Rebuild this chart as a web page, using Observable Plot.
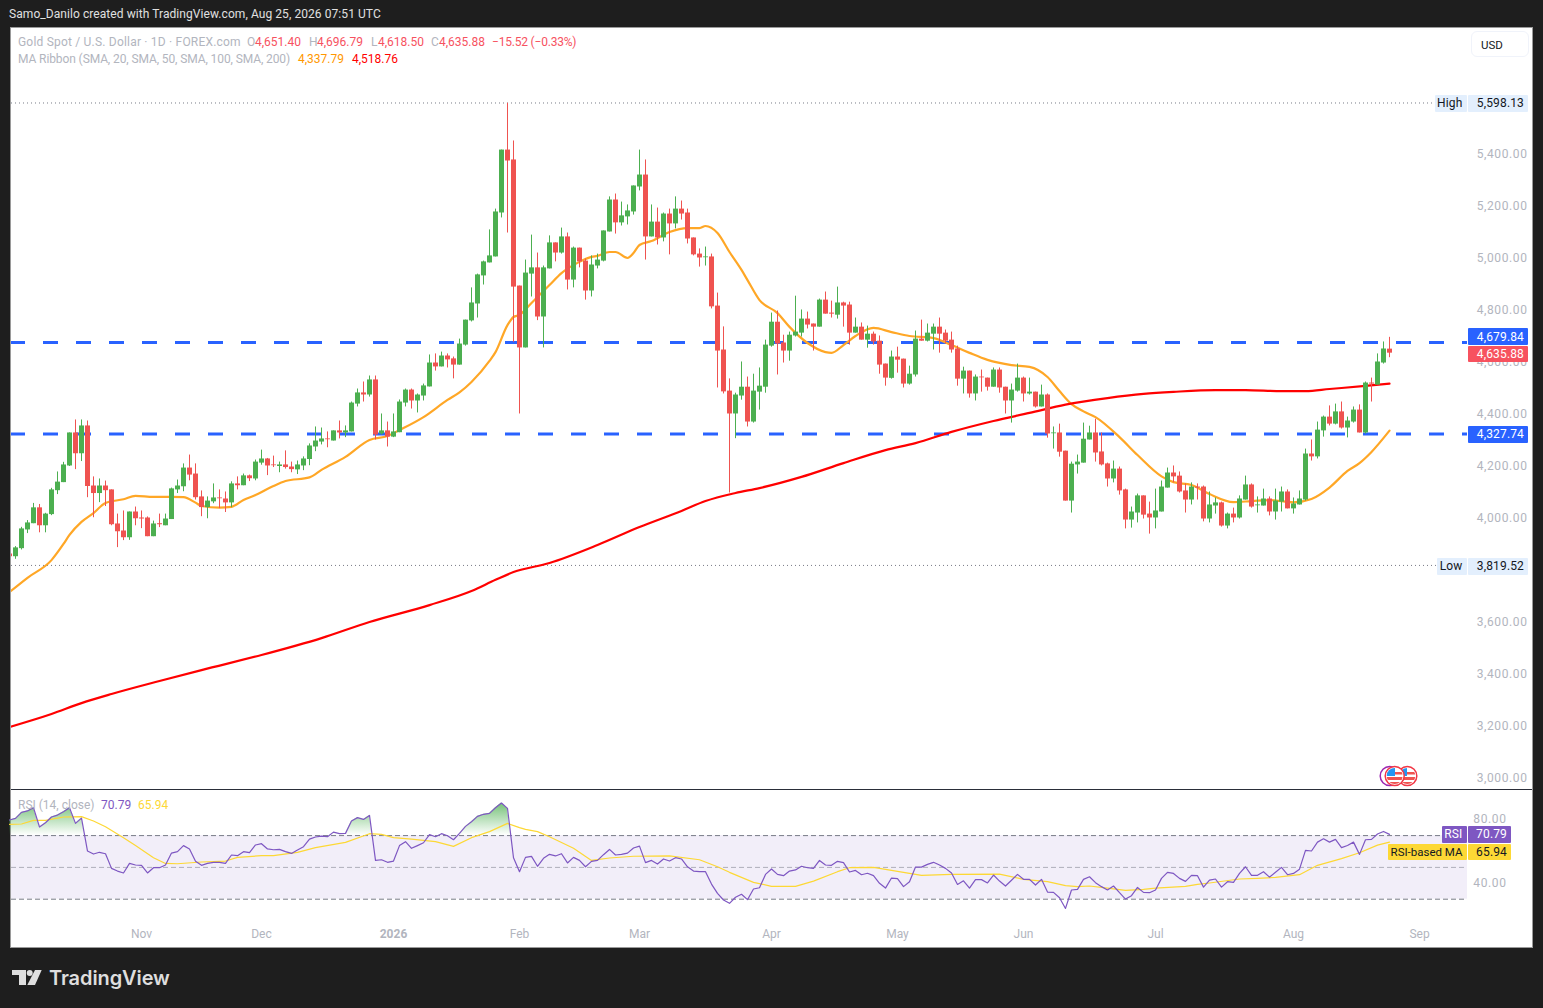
<!DOCTYPE html>
<html><head><meta charset="utf-8">
<script src="https://cdn.jsdelivr.net/npm/d3@7"></script>
<script src="https://cdn.jsdelivr.net/npm/@observablehq/plot@0.6"></script>
<style>
html,body{margin:0;padding:0;background:#1e1e1e;width:1543px;height:1008px;overflow:hidden;font-family:Roboto,sans-serif}
#wrap{position:relative;width:1543px;height:1008px}
.abs{position:absolute;white-space:nowrap;line-height:1}
.box{position:absolute;font-size:12px;display:flex;align-items:center;justify-content:flex-end;box-sizing:border-box;padding-right:4px;border-radius:1px;white-space:nowrap;letter-spacing:.15px}
svg.plot,#wrap>svg{position:absolute}
</style></head><body><div id="wrap"></div>
<script>
const opens=[3863,3853,3884,3956,3980,4041,3972,4015,4107,4138,
4202,4329,4249,4356,4125,4096,4125,4110,3979,3952,
3926,4025,4002,4002,3930,3980,3972,3996,4110,4122,
4194,4171,4083,4042,4064,4079,4075,4060,4133,4126,
4164,4152,4213,4229,4206,4200,4206,4198,4187,4202,
4227,4275,4294,4306,4298,4337,4329,4333,4440,4483,
4475,4533,4325,4337,4313,4330,4444,4494,4452,4471,
4506,4598,4583,4625,4614,4590,4667,4760,4825,4933,
4983,5006,5175,5417,5379,4894,4656,4940,4964,4775,
4960,5060,5021,5083,4917,5040,4990,4875,4971,4990,
5102,5225,5137,5160,5179,5275,5321,5083,5140,5079,
5171,5133,5190,5175,5079,5017,5003,5006,4817,4648,
4490,4402,4471,4505,4371,4486,4505,4663,4755,4675,
4644,4702,4713,4767,4748,4736,4840,4790,4782,4829,
4821,4713,4736,4686,4709,4682,4594,4539,4621,4613,
4517,4552,4690,4682,4709,4736,4713,4686,4652,4536,
4567,4479,4544,4540,4505,4571,4505,4452,4490,4540,
4479,4486,4429,4475,4326,4329,4259,4067,4206,4213,
4302,4329,4256,4210,4152,4190,4110,3994,4021,4087,
4017,4002,4025,4117,4175,4163,4106,4071,4121,4121,
3998,4048,4060,3971,4017,4002,4071,4129,4049,4048,
4075,4025,4063,4102,4037,4052,4071,4248,4237,4337,
4390,4363,4410,4348,4371,4417,4329,4521,4513,4598,
4651.4];
const closes=[3853,3887,3960,3983,4041,3972,4017,4110,4140,4206,
4329,4249,4356,4123,4096,4125,4107,3976,3949,3926,
4025,3999,3998,3930,3979,3976,3998,4114,4125,4194,
4167,4080,4042,4067,4079,4076,4060,4133,4126,4164,
4153,4217,4229,4202,4203,4206,4196,4188,4206,4229,
4279,4298,4306,4303,4337,4329,4337,4444,4483,4475,
4533,4321,4337,4313,4333,4448,4494,4452,4475,4510,
4598,4583,4625,4610,4590,4671,4763,4829,4937,4987,
5010,5179,5417,5375,4890,4656,4944,4964,4775,4964,
5060,5021,5083,4917,5040,4987,4875,4975,4994,5106,
5225,5137,5164,5183,5279,5321,5083,5140,5079,5171,
5133,5190,5171,5075,5014,5002,5006,4814,4644,4487,
4402,4475,4505,4371,4490,4509,4667,4755,4671,4644,
4705,4717,4767,4744,4736,4840,4786,4786,4829,4817,
4713,4736,4686,4709,4679,4590,4540,4621,4609,4517,
4555,4690,4682,4713,4736,4709,4682,4648,4536,4567,
4479,4544,4541,4505,4571,4502,4452,4494,4540,4479,
4486,4429,4475,4325,4329,4255,4067,4209,4217,4305,
4329,4252,4206,4152,4190,4106,3994,4025,4087,4013,
4002,4029,4121,4175,4160,4102,4071,4121,4117,3998,
4052,4060,3971,4017,4002,4075,4129,4044,4052,4075,
4025,4067,4102,4037,4056,4075,4248,4237,4340,4390,
4363,4410,4348,4375,4417,4329,4521,4517,4602,4652,
4635.88];
const highs=[3866,3892,3966,3992,4058,4054,4020,4116,4179,4216,
4329,4379,4379,4375,4160,4152,4144,4110,4017,4029,
4025,4044,4029,4006,3990,4017,4017,4117,4148,4210,
4244,4210,4106,4083,4133,4110,4102,4141,4160,4171,
4167,4225,4263,4231,4240,4217,4260,4217,4221,4237,
4287,4352,4348,4333,4337,4375,4356,4448,4498,4525,
4548,4548,4402,4371,4402,4456,4498,4498,4479,4517,
4629,4633,4640,4633,4621,4690,4763,4887,4940,4990,
5110,5190,5417,5597,5452,4894,4994,5090,5021,4971,
5087,5060,5117,5098,5044,5040,4998,5010,5017,5106,
5237,5248,5217,5206,5279,5417,5379,5206,5194,5175,
5190,5237,5221,5190,5079,5037,5044,5017,4867,4737,
4537,4482,4602,4544,4555,4579,4686,4790,4798,4705,
4717,4855,4802,4794,4748,4844,4871,4836,4890,4832,
4832,4771,4752,4740,4717,4702,4594,4644,4659,4613,
4586,4721,4763,4748,4748,4771,4725,4717,4663,4582,
4567,4552,4571,4540,4579,4579,4505,4517,4594,4544,
4540,4486,4513,4479,4352,4363,4259,4217,4244,4367,
4355,4382,4329,4213,4221,4198,4113,4044,4094,4087,
4063,4113,4144,4194,4202,4179,4133,4137,4133,4125,
4102,4079,4063,4021,4040,4087,4163,4133,4083,4113,
4083,4113,4121,4110,4079,4106,4267,4302,4371,4394,
4433,4440,4448,4390,4429,4437,4525,4540,4633,4679,
4696.79];
const lows=[3845,3843,3879,3942,3980,3945,3945,4011,4092,4138,
4200,4188,4219,4080,4003,4061,4046,3972,3888,3915,
3916,3972,3961,3930,3930,3965,3972,3996,4096,4103,
4145,4071,4007,3999,4057,4038,4023,4042,4110,4126,
4142,4145,4205,4165,4196,4176,4190,4176,4169,4184,
4203,4257,4283,4272,4298,4306,4311,4333,4429,4448,
4467,4302,4321,4275,4311,4330,4429,4421,4406,4452,
4506,4567,4583,4579,4537,4590,4663,4756,4771,4898,
4983,5006,5156,5098,4678,4402,4656,4852,4761,4656,
4960,4987,5017,4879,4887,4964,4840,4852,4960,4987,
5102,5094,5125,5129,5167,5260,4994,5083,5052,5064,
5014,5114,5148,5056,5010,4967,4971,4806,4502,4479,
4098,4307,4455,4352,4367,4417,4482,4659,4552,4598,
4605,4698,4698,4729,4644,4736,4786,4771,4767,4736,
4667,4713,4686,4655,4667,4555,4509,4536,4559,4502,
4513,4544,4682,4679,4648,4636,4671,4636,4509,4479,
4463,4452,4486,4490,4505,4482,4402,4367,4486,4448,
4475,4425,4429,4309,4267,4236,4067,4021,4171,4213,
4302,4217,4202,4121,4137,4090,3960,3963,3983,3998,
3940,3960,4025,4117,4137,4098,4021,4052,4071,3987,
3983,4017,3967,3960,3983,3998,4071,4040,4021,4048,
4010,3994,4025,4037,4017,4052,4067,4221,4229,4313,
4356,4360,4344,4310,4367,4329,4325,4448,4513,4594,
4618.5];

const ma50Days=[0,3,7,9,10,12,14,16,19,21,24,27,29,31,32,35,37,39,41,44,46,50,52,56,60,63,65,69,73,75,77,80,81,83,84,85,87,90,92,95,97,98,100,101,103,104,105,107,110,113,115,116,118,120,122,123,125,128,130,133,136,137,139,141,144,147,150,154,157,160,163,167,170,173,175,177,179,181,185,188,192,194,197,200,204,207,210,214,217,220,223,225,227,230];
const ma50Vals=[3717,3772,3840,3902,3937,3987,4021,4060,4074,4087,4083,4083,4082,4061,4048,4042,4045,4071,4090,4125,4144,4158,4187,4237,4302,4317,4340,4390,4456,4485,4525,4606,4640,4744,4775,4783,4829,4898,4944,4987,5006,5010,5025,5025,5002,5021,5052,5067,5102,5117,5117,5125,5098,5025,4956,4917,4840,4790,4737,4675,4640,4637,4667,4702,4733,4717,4702,4694,4667,4637,4610,4590,4583,4544,4490,4440,4412,4390,4313,4244,4162,4140,4129,4094,4063,4067,4071,4062,4075,4119,4183,4213,4256,4337.79];
const ma200Days=[0,7,12,17,25,32,42,52,60,70,77,81,84,90,98,105,112,116,121,125,132,139,146,151,157,164,170,176,183,189,194,201,206,212,216,220,226,230];
const ma200Vals=[3198,3248,3290,3325,3375,3417,3475,3540,3602,3667,3721,3764,3794,3829,3898,3967,4029,4067,4098,4117,4160,4213,4263,4290,4333,4375,4406,4438,4463,4479,4487,4494,4494,4490,4490,4498,4510,4518.76];

const rsi=[79.8,80.8,84.6,85.5,87.5,75.4,78.1,81.7,82.9,85.0,87.5,77.7,81.0,60.3,58.4,59.5,58.6,49.4,47.7,46.5,
52.5,51.5,51.3,46.5,49.8,49.8,51.5,59.0,59.9,63.7,61.6,53.8,51.3,52.5,53.2,53.2,52.5,57.8,57.4,59.9,
59.3,64.1,64.9,61.6,61.1,61.3,59.9,58.8,60.9,63.0,67.8,69.1,69.7,69.3,72.2,71.2,71.4,79.2,81.3,80.2,
82.7,54.4,54.8,53.2,54.0,63.7,66.2,62.0,63.7,65.5,70.6,69.3,71.2,69.9,67.4,71.4,75.8,78.7,82.1,83.4,
84.0,87.5,90.5,87.1,56.1,47.3,
56.3,56.9,50.7,55.7,58.2,57.2,58.6,52.8,56.3,54.4,50.4,53.8,54.4,58.0,61.3,57.8,58.2,59.0,62.2,63.4,
53.0,54.4,52.1,55.3,54.0,56.1,55.3,50.4,47.7,47.3,47.3,39.5,33.7,29.5,27.4,31.2,33.1,29.7,36.4,37.2,
45.6,49.0,45.6,44.8,47.7,48.4,50.7,49.8,49.4,54.4,51.5,51.3,53.8,53.0,47.1,48.1,45.4,46.3,44.8,40.0,
37.0,43.3,42.9,37.9,41.0,50.2,50.2,51.9,53.2,51.5,49.4,46.5,39.3,41.6,37.0,42.3,42.3,40.2,45.2,41.4,
38.3,41.9,45.6,
42.5,42.5,38.9,42.5,34.5,34.3,30.9,24.2,35.8,36.2,42.5,44.1,40.4,37.9,35.8,38.3,34.1,30.1,32.2,37.4,
34.3,34.1,35.8,43.1,46.9,46.2,43.1,41.2,45.0,44.8,37.6,42.0,42.7,37.6,41.0,40.6,46.2,50.4,45.0,45.0,
47.3,43.9,46.9,50.0,45.4,46.2,48.9,60.7,60.3,65.9,68.0,65.9,67.6,62.4,63.8,65.9,58.2,67.4,67.6,71.0,
72.6,70.79];
const rsiMaDays=[0,2,4,6,9,12,14,16,19,21,24,26,28,32,36,38,42,44,48,51,56,60,62,64,67,71,74,77,80,83,85,86,88,90,92,94,97,100,104,110,115,118,120,124,127,131,134,138,140,144,148,152,157,165,169,173,176,178,180,183,186,189,191,196,198,200,205,208,211,215,218,222,225,228,230];
const rsiMaVals=[77.1,77.3,79.6,79.6,81.7,81.9,79.2,75.6,68.7,63.7,56.1,52.5,52.3,53.4,54.0,56.3,57.4,57.4,59.5,62.4,65.7,71.2,70.8,68.7,67.8,66.2,63.2,68.7,72.5,77.7,75.0,73.9,72.5,69.3,65.7,62.0,54.4,55.9,57.0,57.2,54.8,50.4,46.9,40.6,38.1,38.1,41.4,47.3,49.8,50.0,47.5,45.0,45.6,45.8,42.5,41.0,38.5,37.9,38.3,37.0,35.5,36.2,37.0,38.1,39.3,40.2,42.7,43.1,43.7,45.4,51.3,55.5,59.2,64.0,65.94];

const priceTicks=[3000,3200,3400,3600,4000,4200,4400,4600,4800,5000,5200,5400];
const rsiTicks=[40,80];
const levels=[4679.84,4327.74];
const highLow=[5598.13,3819.52];
const bands=[70,50,30];
const monthDays=[22,42,85,105,127,148,169,191,214,235];
const monthNames=["Nov","Dec","Feb","Mar","Apr","May","Jun","Jul","Aug","Sep"];
const yearDays=[64];
const yearNames=["2026"];

const UP="#4caf50",DOWN="#ef5350",GREY="#b2b5be",FONT="Roboto, sans-serif";
const candles=opens.map((o,i)=>({i,o,c:closes[i],h:highs[i],l:lows[i],col:closes[i]>=o?UP:DOWN}));
const zip=(d,v)=>d.map((x,k)=>({x,v:v[k]}));
const xDomain=[(11-9)/6,(1467-9)/6];
const fmt=d3.format(",.2f");
const st={background:"transparent",fontFamily:FONT,fontSize:"12px",overflow:"visible"};

const pricePlot=Plot.plot({
  width:1543,height:790,marginLeft:11,marginRight:76,marginTop:28,marginBottom:1,style:st,
  x:{domain:xDomain,range:[11,1467],axis:null},
  y:{domain:[3000,5600],range:[778,102],axis:null},
  marks:[
    Plot.ruleY(highLow,{stroke:"#787b86",strokeWidth:1,strokeDasharray:"1,3"}),
    Plot.ruleY(levels,{stroke:"#2962ff",strokeWidth:3,strokeDasharray:"15,18",strokeDashoffset:1,dy:0.8}),
    Plot.line(zip(ma50Days,ma50Vals),{x:"x",y:"v",stroke:"#ffa726",strokeWidth:2.2,curve:"monotone-x",clip:"frame"}),
    Plot.line(zip(ma200Days,ma200Vals),{x:"x",y:"v",stroke:"#ff0000",strokeWidth:2.2,curve:"monotone-x",clip:"frame"}),
    Plot.ruleX(candles,{x:"i",y1:"l",y2:"h",stroke:"col",strokeWidth:1,clip:"frame"}),
    Plot.ruleX(candles,{x:"i",y1:"o",y2:"c",stroke:"col",strokeWidth:5,clip:"frame"}),
    Plot.axisY(priceTicks,{anchor:"right",tickSize:0,tickPadding:60,textAnchor:"end",tickFormat:fmt,label:null,color:GREY,fontSize:12})
  ]
});

function gradientDefs(index,scales){
  const defs=d3.create("svg:defs");
  const g=defs.append("linearGradient").attr("id","ob").attr("gradientUnits","userSpaceOnUse")
    .attr("x1",0).attr("x2",0).attr("y1",scales.y(91)).attr("y2",scales.y(70));
  g.append("stop").attr("offset",0).attr("stop-color","#4caf50").attr("stop-opacity",0.8);
  g.append("stop").attr("offset",1).attr("stop-color","#4caf50").attr("stop-opacity",0);
  return defs.node();
}
const rsiRows=rsi.map((v,i)=>({i,v}));
const rsiPlot=Plot.plot({
  width:1543,height:157,marginLeft:11,marginRight:76,marginTop:0,marginBottom:24,style:st,
  x:{domain:xDomain,range:[11,1467],axis:null},
  y:{domain:[0,100],range:[156.4,-2.6],axis:null},
  marks:[
    gradientDefs,
    Plot.rect([{a:xDomain[0],b:xDomain[1],lo:30,hi:70}],{x1:"a",x2:"b",y1:"lo",y2:"hi",fill:"#7e57c2",fillOpacity:0.1}),
    Plot.ruleY(bands,{stroke:"#787b86",strokeWidth:1,strokeDasharray:"5,3",strokeOpacity:d=>d===50?0.55:1}),
    Plot.areaY(rsiRows,{x:"i",y1:()=>70,y2:"v",fill:"url(#ob)"}),
    Plot.line(zip(rsiMaDays,rsiMaVals),{x:"x",y:"v",stroke:"#fdd835",strokeWidth:1.2}),
    Plot.line(rsiRows,{x:"i",y:"v",stroke:"#7e57c2",strokeWidth:1.2}),
    Plot.axisY(rsiTicks,{anchor:"right",tickSize:0,tickPadding:39,textAnchor:"end",dy:-0.5,tickFormat:fmt,label:null,color:GREY,fontSize:12}),
    Plot.axisX(monthDays,{anchor:"bottom",tickSize:0,tickPadding:6,tickFormat:d=>monthNames[monthDays.indexOf(d)],label:null,color:GREY,fontSize:12}),
    Plot.axisX(yearDays,{anchor:"bottom",tickSize:0,tickPadding:6,tickFormat:d=>yearNames[yearDays.indexOf(d)],label:null,color:GREY,fontSize:12,fontWeight:"bold"})
  ]
});
[pricePlot,rsiPlot].forEach(p=>d3.select(p).selectAll('[aria-label="y-axis tick label"] text').style("letter-spacing","0.6px"));

const wrap=document.getElementById("wrap");
function el(css,html,cls){const d=document.createElement("div");d.className=cls||"abs";d.style.cssText=css;d.innerHTML=html;wrap.appendChild(d);return d;}

// frame
el("left:10px;top:27px;width:1521px;height:919px;background:#fff;border:1px solid #9a9a9a;box-sizing:content-box","");
wrap.appendChild(pricePlot);pricePlot.style.cssText+=";position:absolute;left:0;top:0";
wrap.appendChild(rsiPlot);rsiPlot.style.cssText+=";position:absolute;left:0;top:790px";
el("left:11px;top:788.5px;width:1521px;height:1.5px;background:#2a2e39","");

const F="font-size:12px;";
el(F+"left:9px;top:8px;color:#e0e0e0;letter-spacing:.07px","Samo_Danilo created with TradingView.com, Aug 25, 2026 07:51 UTC");
const R="#f7525f";
[["Gold Spot / U.S. Dollar · 1D · FOREX.com",18,GREY,.2],["O",247,GREY,0],["4,651.40",255,R,0],["H",309,GREY,0],["4,696.79",317,R,0],["L",371,GREY,0],["4,618.50",378,R,0],["C",431,GREY,0],["4,635.88",439,R,0],["−15.52 (−0.33%)",492,R,-.2]]
 .forEach(([t,x,c,ls])=>el(F+`left:${x}px;top:36px;color:${c};letter-spacing:${ls}px`,t));
[["MA Ribbon (SMA, 20, SMA, 50, SMA, 100, SMA, 200)",18,GREY,-.1],["4,337.79",298,"#ff9800",0],["4,518.76",352,"#ff0000",0]]
 .forEach(([t,x,c,ls])=>el(F+`left:${x}px;top:53px;color:${c};letter-spacing:${ls}px`,t));
[["RSI (14, close)",18,GREY],["70.79",101,"#7e57c2"],["65.94",138,"#fdd835"]]
 .forEach(([t,x,c])=>el(F+`left:${x}px;top:799px;color:${c}`,t));

el("left:1471px;top:31px;width:58px;height:26px;border:1px solid #f0f3fa;border-radius:6px;box-sizing:border-box;font-size:11.5px;color:#131722;padding:8px 0 0 9px","USD");

function box(x1,x2,y1,y2,bg,col,t,extra){el(`left:${x1}px;top:${y1}px;width:${x2-x1}px;height:${y2-y1}px;background:${bg};color:${col};${extra||""}`,t,"box");}
const LB="#e3effd",DK="#131722";
box(1435,1466.5,95,111.5,LB,DK,"High");box(1468,1528,95,111.5,LB,DK,fmt(highLow[0]));
box(1437,1466.5,558,574.5,LB,DK,"Low");box(1468,1528,558,574.5,LB,DK,fmt(highLow[1]));
box(1468,1528,328,345,"#2962ff","#fff",fmt(levels[0]));
box(1468,1528,345.5,362,R,"#fff",fmt(closes[230]));
box(1468,1528,426,442.5,"#2962ff","#fff",fmt(levels[1]));
box(1442,1466.5,826,842.5,"#7e57c2","#fff","RSI");box(1468,1511,826,842.5,"#7e57c2","#fff",fmt(rsi[230]));
box(1388,1466.5,843.5,860,"#fdd835","#131722","RSI-based MA","font-size:11.5px;letter-spacing:0;");box(1468,1511,843.5,860,"#fdd835","#131722",fmt(65.94));

// event flags and logo
const ns=`<svg xmlns="http://www.w3.org/2000/svg" width="1543" height="1008" style="position:absolute;left:0;top:0;pointer-events:none">
<defs><clipPath id="c1"><circle cx="1394.7" cy="776" r="8"/></clipPath><clipPath id="c2"><circle cx="1407.3" cy="776" r="8"/></clipPath></defs>
<circle cx="1389.7" cy="776" r="9.5" fill="#fff" stroke="#9c27b0" stroke-width="1.5"/>
<circle cx="1407.3" cy="776" r="9.5" fill="#fff" stroke="#f23645" stroke-width="1.5"/>
<g clip-path="url(#c2)"><rect x="1398" y="767" width="19" height="18" fill="#fff"/><rect x="1398" y="777" width="19" height="3" fill="#ef5350"/><rect x="1398" y="782" width="19" height="4" fill="#ef5350"/><rect x="1398" y="772" width="19" height="2.5" fill="#ef5350"/><rect x="1399" y="767" width="8" height="9" fill="#2196f3"/></g>
<circle cx="1394.7" cy="776" r="9.5" fill="#fff" stroke="#f23645" stroke-width="1.5"/>
<g clip-path="url(#c1)"><rect x="1386" y="777" width="19" height="3" fill="#ef5350"/><rect x="1386" y="782" width="19" height="4" fill="#ef5350"/><rect x="1386" y="772" width="19" height="2.5" fill="#ef5350"/><rect x="1386" y="767" width="9" height="9" fill="#2196f3"/></g>
<path d="M12 970h14v15h-7v-10h-7z" fill="#dedede"/><circle cx="29.7" cy="973" r="3" fill="#dedede"/><path d="M35 970h6.7l-6.7 15h-7.7z" fill="#dedede"/>
</svg>`;
el("left:0;top:0",ns);
el("left:49px;top:968px;font-family:Inter,sans-serif;font-weight:600;font-size:20px;color:#dedede;letter-spacing:-.1px","TradingView");
</script></body></html>
